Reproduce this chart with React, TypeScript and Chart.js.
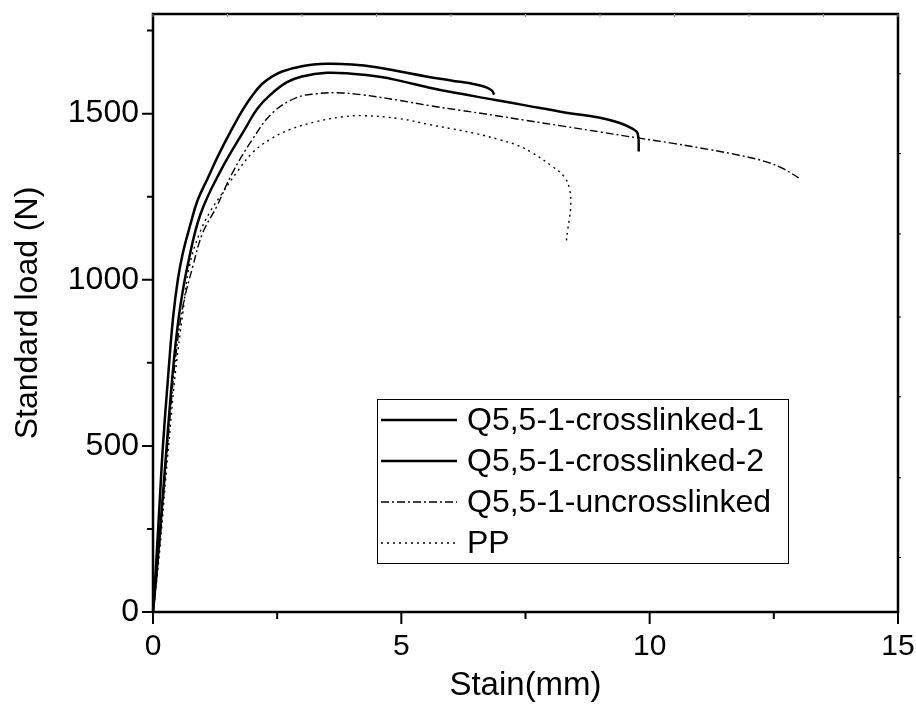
import React, { useEffect, useRef } from 'react';
import { Chart, registerables } from 'chart.js';

Chart.register(...registerables);

const seriesNames = ['Q5,5-1-crosslinked-1', 'Q5,5-1-crosslinked-2', 'Q5,5-1-uncrosslinked', 'PP'];

const xCross1 = [0, 0.03, 0.13, 0.2, 0.3, 0.4, 0.5, 0.6, 0.75, 0.9, 1.1, 1.3, 1.55, 1.8, 2.0, 2.2, 2.4, 2.6, 3.0, 3.5, 4.0, 4.5, 5.0, 5.5, 6.0, 6.5, 6.7, 6.82, 6.87];
const yCross1 = [0, 60, 320, 500, 700, 880, 1000, 1080, 1165, 1240, 1305, 1370, 1443, 1510, 1555, 1590, 1612, 1627, 1643, 1650, 1648, 1640, 1626, 1612, 1600, 1588, 1580, 1570, 1557];

const xCross2 = [0, 0.05, 0.15, 0.25, 0.35, 0.45, 0.55, 0.7, 0.95, 1.34, 1.88, 2.1, 2.35, 2.69, 3.0, 3.5, 4.0, 4.56, 5.0, 5.57, 6.0, 6.87, 7.5, 8.32, 9.0, 9.4, 9.65, 9.76, 9.78];
const yCross2 = [0, 80, 260, 450, 640, 800, 920, 1045, 1195, 1322, 1461, 1515, 1555, 1594, 1612, 1623, 1620, 1611, 1598, 1578, 1565, 1542, 1525, 1503, 1488, 1472, 1455, 1440, 1386];

const xUncross = [0, 0.05, 0.15, 0.25, 0.35, 0.45, 0.6, 0.8, 1.0, 1.28, 1.6, 2.0, 2.41, 2.89, 3.3, 3.7, 4.2, 4.96, 5.57, 6.2, 6.87, 7.5, 8.32, 9.0, 9.76, 10.5, 11.2, 11.8, 12.35, 12.68, 13.0];
const yUncross = [0, 70, 230, 420, 600, 760, 919, 1039, 1141, 1220, 1322, 1422, 1503, 1548, 1560, 1563, 1557, 1540, 1524, 1510, 1495, 1480, 1461, 1445, 1427, 1410, 1392, 1375, 1355, 1335, 1307];

const xPP = [0, 0.05, 0.15, 0.25, 0.35, 0.45, 0.6, 0.73, 0.94, 1.14, 1.4, 1.68, 2.0, 2.35, 2.75, 3.29, 3.8, 4.22, 4.96, 5.57, 6.0, 6.5, 6.97, 7.35, 7.64, 8.04, 8.28, 8.39, 8.41, 8.38, 8.35, 8.32];
const yPP = [0, 60, 210, 390, 560, 720, 900, 1039, 1141, 1202, 1262, 1322, 1382, 1422, 1452, 1476, 1490, 1494, 1485, 1467, 1455, 1440, 1422, 1404, 1382, 1341, 1310, 1271, 1220, 1180, 1150, 1114];

const xMajorTicks = [0, 5, 10, 15];
const xMinorTicks = [2.5, 7.5, 12.5];
const yMajorTicks = [0, 500, 1000, 1500];
const yMinorTicks = [250, 750, 1250, 1750];
const topTicks = [0, 1.5, 3, 4.5, 6, 7.5, 9, 10.5, 12, 13.5, 15];
const rightTicks = [164, 404, 648, 888, 1138, 1380, 1620];

const FONT = '"Liberation Sans", Arial, sans-serif';

const lineStyles = [
  { width: 2.5, dash: [] as number[] },
  { width: 2.5, dash: [] as number[] },
  { width: 1.4, dash: [8, 3, 2, 3] },
  { width: 1.4, dash: [2, 4] },
];

const toPts = (xs: number[], ys: number[]) => xs.map((x, i) => ({ x, y: ys[i] }));

const framePlugin = {
  id: 'frame',
  afterDraw(chart: any) {
    const { ctx, chartArea, scales } = chart;
    const { left, right, top, bottom } = chartArea;
    const xs = scales.x;
    const ys = scales.y;
    ctx.save();
    ctx.strokeStyle = '#000';
    ctx.lineWidth = 2.5;
    ctx.strokeRect(left, top, right - left, bottom - top);
    ctx.lineWidth = 2;
    ctx.beginPath();
    xMajorTicks.forEach((v) => {
      const p = xs.getPixelForValue(v);
      ctx.moveTo(p, bottom);
      ctx.lineTo(p, bottom + 12);
    });
    xMinorTicks.forEach((v) => {
      const p = xs.getPixelForValue(v);
      ctx.moveTo(p, bottom);
      ctx.lineTo(p, bottom + 7);
    });
    yMajorTicks.forEach((v) => {
      const p = ys.getPixelForValue(v);
      ctx.moveTo(left, p);
      ctx.lineTo(left - 11, p);
    });
    yMinorTicks.forEach((v) => {
      const p = ys.getPixelForValue(v);
      ctx.moveTo(left, p);
      ctx.lineTo(left - 6, p);
    });
    ctx.stroke();
    ctx.lineWidth = 1;
    ctx.strokeStyle = '#999';
    ctx.beginPath();
    topTicks.forEach((v) => {
      const p = xs.getPixelForValue(v);
      ctx.moveTo(p, top);
      ctx.lineTo(p, top + 3);
    });
    ctx.stroke();
    ctx.strokeStyle = '#000';
    ctx.beginPath();
    rightTicks.forEach((v) => {
      const p = ys.getPixelForValue(v);
      ctx.moveTo(right, p);
      ctx.lineTo(right + 3, p);
    });
    ctx.stroke();

    // legend
    const bx = left + 224;
    const by = top + 385;
    const bw = 411;
    const bh = 164;
    ctx.fillStyle = '#fff';
    ctx.fillRect(bx, by, bw, bh);
    ctx.lineWidth = 1;
    ctx.strokeStyle = '#000';
    ctx.strokeRect(bx + 0.5, by + 0.5, bw, bh);
    ctx.font = '32px ' + FONT;
    ctx.textBaseline = 'middle';
    ctx.textAlign = 'left';
    ctx.fillStyle = '#000';
    seriesNames.forEach((name, i) => {
      const cy = by + 21 + i * 41;
      const st = lineStyles[i];
      ctx.beginPath();
      ctx.lineWidth = st.width;
      ctx.setLineDash(st.dash);
      ctx.moveTo(bx + 4, cy);
      ctx.lineTo(bx + 80, cy);
      ctx.stroke();
      ctx.setLineDash([]);
      ctx.fillText(name, bx + 90, cy + 1);
    });
    ctx.restore();
  },
};

const zeroPad = (s: any) => {
  s.paddingTop = 0;
  s.paddingBottom = 0;
  s.paddingLeft = 0;
  s.paddingRight = 0;
};

export default function App() {
  const ref = useRef<HTMLCanvasElement | null>(null);
  useEffect(() => {
    if (!ref.current) return;
    const series = [
      toPts(xCross1, yCross1),
      toPts(xCross2, yCross2),
      toPts(xUncross, yUncross),
      toPts(xPP, yPP),
    ];
    const chart = new Chart(ref.current, {
      type: 'line',
      data: {
        datasets: series.map((data, i) => ({
          label: seriesNames[i],
          data,
          borderColor: '#000',
          borderWidth: lineStyles[i].width,
          borderDash: lineStyles[i].dash,
          pointRadius: 0,
          fill: false,
          tension: 0.4,
          clip: false as any,
        })),
      },
      options: {
        animation: false,
        responsive: false,
        layout: { padding: { top: 14, right: 18, left: 0, bottom: 0 } },
        plugins: { legend: { display: false }, tooltip: { enabled: false } },
        scales: {
          x: {
            type: 'linear',
            min: 0,
            max: 15,
            afterBuildTicks: (s: any) => {
              s.ticks = xMajorTicks.map((v) => ({ value: v }));
            },
            afterFit: (s: any) => {
              s.height = 94;
              zeroPad(s);
            },
            grid: { display: true, drawOnChartArea: false, color: 'rgba(0,0,0,0)', tickLength: 12 },
            border: { display: false },
            ticks: {
              color: '#000',
              font: { family: FONT, size: 30 },
              padding: 5,
              maxRotation: 0,
              callback: (v: any) => String(v),
            },
            title: {
              display: true,
              text: 'Stain(mm)',
              color: '#000',
              font: { family: FONT, size: 33 },
              padding: 0,
            },
          },
          y: {
            type: 'linear',
            min: 0,
            max: 1800,
            afterBuildTicks: (s: any) => {
              s.ticks = yMajorTicks.map((v) => ({ value: v }));
            },
            afterFit: (s: any) => {
              s.width = 153;
              zeroPad(s);
            },
            grid: { display: true, drawOnChartArea: false, color: 'rgba(0,0,0,0)', tickLength: 10 },
            border: { display: false },
            ticks: {
              color: '#000',
              font: { family: FONT, size: 32 },
              padding: 4,
              callback: (v: any) => String(v),
            },
            title: {
              display: true,
              text: 'Standard load (N)',
              color: '#000',
              font: { family: FONT, size: 32 },
              padding: 9,
            },
          },
        },
      },
      plugins: [framePlugin],
    });
    return () => chart.destroy();
  }, []);
  return (
    <div style={{ position: 'fixed', left: 0, top: 0, width: 916, height: 706, background: '#fff' }}>
      <canvas ref={ref} width={916} height={706} style={{ width: 916, height: 706 }} />
    </div>
  );
}
